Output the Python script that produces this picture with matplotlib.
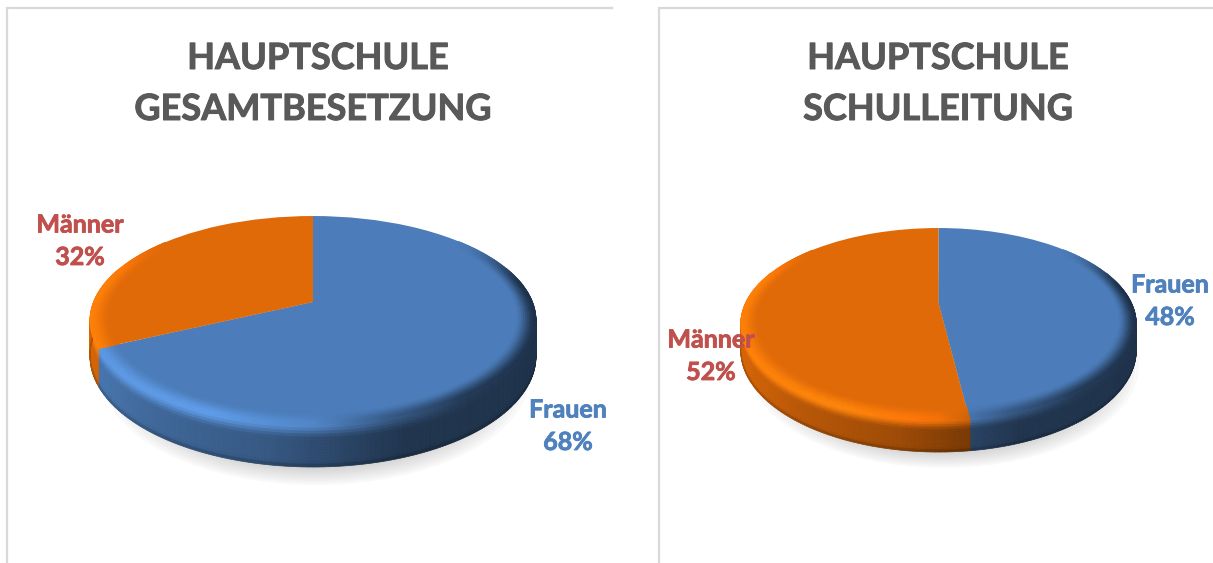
import numpy as np
import matplotlib
matplotlib.use("Agg")
import matplotlib.pyplot as plt
import matplotlib.patheffects as pe
from matplotlib.collections import PolyCollection
from matplotlib.patches import Ellipse
from matplotlib.transforms import Transform

# ---- data ----
categories = ["Frauen", "Männer"]
values_gesamt = [68, 32]
values_leitung = [48, 52]
title_line1 = "HAUPTSCHULE"
title_gesamt = "GESAMTBESETZUNG"
title_leitung = "SCHULLEITUNG"

# ---- style ----
BASE = [np.array(matplotlib.colors.to_rgb(c)) for c in ("#4C7DBA", "#E16A08")]
LABEL = ["#4F81BD", "#C0504D"]
FONT = "Lato"
W, H = 1213, 563

plt.rcParams["font.family"] = [FONT, "DejaVu Sans"]
fig = plt.figure(figsize=(W / 100, H / 100), dpi=100, facecolor="white")
ax = fig.add_axes([0, 0, 1, 1])


class Persp(Transform):
    input_dims = output_dims = 2
    has_inverse = False
    is_separable = False

    def __init__(self, cx, ay, A, B, k):
        super().__init__()
        self.p = (cx, ay, A, B, k)

    def transform_non_affine(self, xy):
        cx, ay, A, B, k = self.p
        xy = np.asarray(xy, float)
        den = 1 + k * xy[:, 1]
        return np.column_stack([cx + B * xy[:, 0] / den, ay - A * xy[:, 1] / den])


def sstep(a, b, x):
    t = np.clip((x - a) / (b - a), 0, 1)
    return t * t * (3 - 2 * t)


def draw_pie(values, cx, ay, A, B, k, depth, shadow):
    tf = Persp(cx, ay, A, B, k)
    rx = B / np.sqrt(1 - k * k)

    # soft shadow below the disc
    sx, sy, srx, sry = shadow
    for i in range(12):
        g = 1 - i * 0.02
        ax.add_patch(Ellipse((sx, sy), 2 * srx * g, 2 * sry * g, fc="#808080",
                             ec="none", alpha=0.045, zorder=1))

    wedges, _ = ax.pie(values, startangle=90, counterclock=False, radius=1,
                       center=(0, 0), colors=[tuple(b) for b in BASE])
    for w in wedges:
        w.set_transform(tf + ax.transData)
        w.set_zorder(3)
        w.set_antialiased(True)

    shares = np.cumsum(values) / np.sum(values)
    n = 540
    th = np.linspace(0, 2 * np.pi, n + 1)
    tm = 0.5 * (th[:-1] + th[1:])
    seg = np.searchsorted(shares, tm / (2 * np.pi))
    seg = np.clip(seg, 0, len(values) - 1)

    def lit(t):
        u, v = np.sin(t), np.cos(t)
        L = np.interp(u, [-1, -0.4, 0, 0.3, 0.6, 1], [0.22, 0.26, 0.08, -0.3, -0.55, -0.62])
        return L * (1 - sstep(0.15, 0.7, v))

    def rim(i):
        return np.clip(BASE[seg[i]] * (1 + lit(tm[i])), 0, 1)

    def pt(t, r=1.0, s=0.0):
        u, v = r * np.sin(t), r * np.cos(t)
        den = 1 + k * v
        return cx + B * u / den, ay - A * v / den + s * depth / den

    # side wall
    sv = np.linspace(0, 1, 15)
    polys, cols = [], []
    for i in range(n):
        t0, t1 = th[i], th[i + 1]
        if np.cos(tm[i]) > 0.35:
            continue
        xm = pt(tm[i])[0]
        p = (xm - (cx - rx)) / (2 * rx)
        shade = np.interp(p, [0, .15, .4, .55, .7, 1], [.95, .82, .7, .56, .42, .40])
        wall = BASE[seg[i]] * shade
        for j in range(len(sv) - 1):
            s0, s1 = sv[j], sv[j + 1]
            sm = 0.5 * (s0 + s1)
            c = wall * (1 - 0.22 * sstep(0.86, 1.0, sm))
            f = 1 - sstep(0.0, 0.36, sm)
            c = c * (1 - f) + rim(i) * f
            polys.append([pt(t0, 1, s0), pt(t1, 1, s0), pt(t1, 1, s1), pt(t0, 1, s1)])
            cols.append(c)
    ax.add_collection(PolyCollection(polys, facecolors=cols, edgecolors=cols,
                                     linewidths=0.5, zorder=2))

    # bevel on the rim of the top face
    r_in = 0.91
    rv = np.linspace(r_in, 1, 11)
    polys, cols = [], []
    for i in range(n):
        t0, t1 = th[i], th[i + 1]
        if abs(lit(tm[i])) < 0.004:
            continue
        for j in range(len(rv) - 1):
            r0, r1 = rv[j], rv[j + 1]
            f = sstep(0, 1, (0.5 * (r0 + r1) - r_in) / (1 - r_in))
            c = BASE[seg[i]] * (1 - f) + rim(i) * f
            polys.append([pt(t0, r0), pt(t1, r0), pt(t1, r1), pt(t0, r1)])
            cols.append(c)
    ax.add_collection(PolyCollection(polys, facecolors=cols, edgecolors=cols,
                                     linewidths=0.4, zorder=4))


draw_pie(values_gesamt, 313, 302, 101.2, 219.5, 0.177, 34.6, (316, 375, 214, 110))
draw_pie(values_leitung, 938.5, 303, 91.4, 193, 0.219, 25, (944, 366, 195, 102))

ax.set_xlim(0, W)
ax.set_ylim(H, 0)
ax.set_aspect("auto")
ax.axis("off")

# chart frames
for x0, x1 in ((7, 612), (659, W)):
    ax.plot([x0, x0, x1], [H, 8, 8], color="#D9D9D9", lw=1.6, zorder=1,
            solid_joinstyle="miter", clip_on=True)


def heavy(lw, color):
    return [pe.withStroke(linewidth=lw, foreground=color)]


# titles
for (cx1, cx2), lines in (((318, 313), (title_line1, title_gesamt)),
                          ((938, 938), (title_line1, title_leitung))):
    for cx, y, s in zip((cx1, cx2), (58.5, 109.5), lines):
        ax.text(cx, y, s, ha="center", va="center", fontsize=26, fontweight="bold",
                color="#595959", zorder=6, path_effects=heavy(0.7, "#595959"))


def label(i, values, x, y):
    for yy, s in ((y + 1, categories[i]), (y + 33.5, f"{values[i]}%")):
        ax.text(x, yy, s, ha="center", va="center", fontsize=18, fontweight="bold",
                color=LABEL[i], zorder=7, path_effects=heavy(0.6, LABEL[i]))


label(0, values_gesamt, 568, 409)
label(1, values_gesamt, 80, 224)
label(0, values_leitung, 1170, 284)
label(1, values_leitung, 711, 339)

fig.savefig("out.png", dpi=100, facecolor="white")
